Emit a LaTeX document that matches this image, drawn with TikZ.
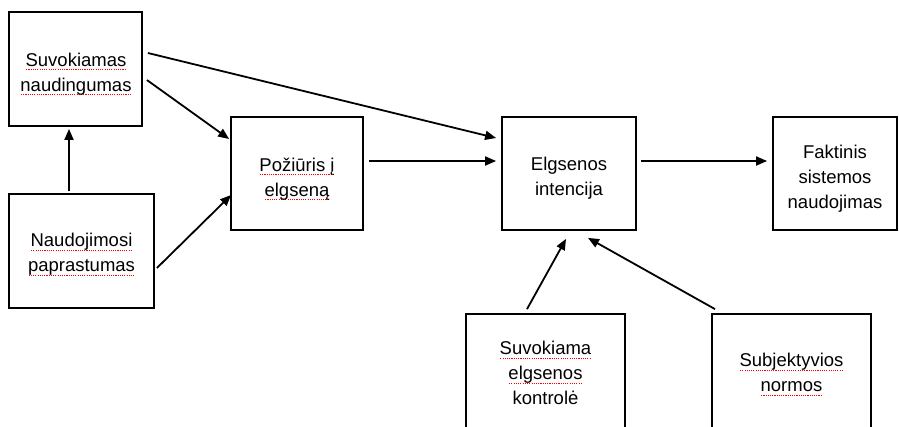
\documentclass[tikz,border=0pt]{standalone}
\usepackage{fontspec}
\setmainfont{Liberation Sans}
\usetikzlibrary{arrows.meta,calc}
\newsavebox\sqbox
\newcommand\sq[1]{\sbox\sqbox{#1}\leavevmode\rlap{\raisebox{-4pt}{\color{red}\hbox to \wd\sqbox{\xleaders\hbox to 2.2pt{\hss\rule{1.1pt}{1pt}\hss}\hfill}}}\usebox\sqbox}
\begin{document}
\begin{tikzpicture}[x=1pt,y=-1pt,
  box/.style={draw,line width=1.8pt,inner sep=0pt},
  txt/.style={align=center,inner sep=0pt,text depth=0pt,font=\fontsize{18.5}{25}\selectfont},
  arr/.style={line width=1.8pt,-{Triangle[length=11pt,width=9pt]}}]
\useasboundingbox (0,0) rectangle (899,426);
\clip (0,0) rectangle (899,426);
% boxes
\node[box,minimum width=133pt,minimum height=114pt] (SN) at (75.5,69) {};
\node[box,minimum width=145pt,minimum height=114pt] (NP) at (81.5,251) {};
\node[box,minimum width=132pt,minimum height=113pt] (PE) at (297,173.5) {};
\node[box,minimum width=134pt,minimum height=113pt] (EI) at (569,173.5) {};
\node[box,minimum width=124pt,minimum height=113pt] (FS) at (835,173.5) {};
\node[box,minimum width=159pt,minimum height=122pt] (SEK) at (545.5,375) {};
\node[box,minimum width=159pt,minimum height=122pt] (SUB) at (791.5,375) {};
% texts
\node[txt] (tSN) at (76,72) {\sq{Suvokiamas}\\\sq{naudingumas}};
\node[txt] (tNP) at (81.5,252.5) {\sq{Naudojimosi}\\\sq{paprastumas}};
\node[txt] (tPE) at (297,177) {\sq{Požiūris į}\\\sq{elgseną}};
\node[txt] (tEI) at (569,176) {Elgsenos\\intencija};
\node[txt] (tFS) at (835,177) {Faktinis\\sistemos\\naudojimas};
\node[txt] (tSEK) at (545.5,373) {\sq{Suvokiama}\\\sq{elgsenos}\\kontrolė};
\node[txt] (tSUB) at (791.5,372.5) {\sq{Subjektyvios}\\\sq{normos}};
% connectors
\draw[arr] ($(SN.east)+(5,-16)$) -- ($(EI.west)+(-5,-35.5)$);
\draw[arr] ($(SN.east)+(4,11)$) -- ($(PE.west)+(-1,-34.5)$);
\draw[arr] ($(NP.east)+(2,17)$) -- ($(PE.west)+(1,21.5)$);
\draw[arr] ($(NP.north)+(-12.5,-2)$) -- ($(SN.south)+(-6.5,2)$);
\draw[arr] ($(PE.east)+(5,-12.5)$) -- ($(EI.west)+(-5,-12.5)$);
\draw[arr] ($(EI.east)+(4,-12.5)$) -- ($(FS.west)+(-5,-12.5)$);
\draw[arr] ($(SEK.north)+(-18.5,-4)$) -- ($(EI.south)+(-3,8)$);
\draw[arr] ($(SUB.north)+(-76.5,-4)$) -- ($(EI.south)+(19,7)$);
\end{tikzpicture}
\end{document}
